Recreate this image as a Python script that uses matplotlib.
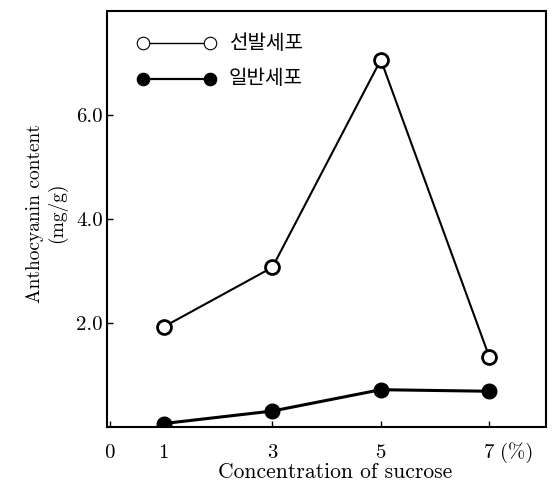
import matplotlib.pyplot as plt

plt.rcParams['font.family'] = ['cmr10', 'DejaVu Serif']
plt.rcParams['axes.formatter.use_mathtext'] = True

sucrose = [1, 3, 5, 7]
selected = [1.93, 3.07, 7.06, 1.35]
normal = [0.07, 0.31, 0.72, 0.69]
xtick_vals = [0, 1, 3, 5, 7]
xtick_labels = ['0', '1', '3', '5', '7']
ytick_vals = [2.0, 4.0, 6.0]
ytick_labels = ['2.0', '4.0', '6.0']
legend_names = ['선발세포', '일반세포']

fig = plt.figure(figsize=(5.54, 4.91), dpi=100)
ax = fig.add_axes([0.193, 0.130, 0.793, 0.848])

ax.plot(sucrose, selected, color='black', lw=1.5, marker='o', ms=10,
        mfc='white', mec='black', mew=2.0, zorder=3)
ax.plot(sucrose, normal, color='black', lw=2.2, marker='o', ms=10.5,
        mfc='black', mec='black', zorder=3)

ax.set_xlim(-0.05, 8.05)
ax.set_ylim(0, 8.0)
ax.set_xticks(xtick_vals)
ax.set_xticklabels(xtick_labels)
ax.set_yticks(ytick_vals)
ax.set_yticklabels(ytick_labels)
ax.tick_params(direction='in', length=4, width=1, labelsize=15)
ax.tick_params(axis='x', pad=12)
ax.tick_params(axis='y', pad=3)
for s in ax.spines.values():
    s.set_linewidth(1.5)

ax.text(7.2, -0.48, '(%)', fontsize=15, ha='left', va='center')

ax.set_xlabel('Concentration of sucrose', fontsize=15.5, labelpad=2)
ax.xaxis.set_label_coords(0.52, -0.085)
ax.set_ylabel('Anthocyanin content\n(mg/g)', fontsize=14, linespacing=1.2)
ax.yaxis.set_label_coords(-0.09, 0.514)

# legend drawn by hand, inside top-left
kfont = ['Noto Sans CJK KR', 'DejaVu Sans']
rows = [(7.38, 'white', 1.0), (6.69, 'black', 1.6)]
for (yy, fc, lw), name in zip(rows, legend_names):
    ax.plot([0.61, 1.85], [yy, yy], color='black', lw=lw)
    ax.plot([0.61], [yy], marker='o', ms=9, mfc=fc, mec='black',
            mew=0.8, color='black')
    ax.plot([1.85], [yy], marker='o', ms=9, mfc=fc, mec='black',
            mew=0.8, color='black')
    ax.text(2.2, yy, name, family=kfont, fontsize=14.5, va='center',
            ha='left')

fig.savefig('out.png', dpi=100)
